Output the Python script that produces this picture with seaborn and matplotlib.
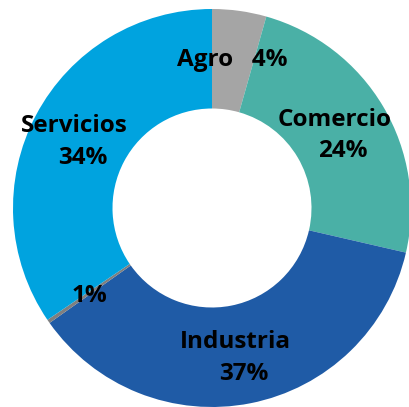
import numpy as np
import matplotlib
matplotlib.use("Agg")
import matplotlib.pyplot as plt
import seaborn as sns

# shares (wedge sizes) and the printed labels
sectores = ["Agro", "Comercio", "Industria", "", "Servicios"]
participacion = [4.4, 24.2, 36.6, 0.3, 34.5]
etiquetas_pct = ["4%", "24%", "37%", "1%", "34%"]
colores = ["#A5A5A5", "#4AB0A6", "#1F5BA6", "#7F7F7F", "#00A3DF"]

sns.set_style("white")
plt.rcParams["font.family"] = ["Open Sans", "DejaVu Sans"]
plt.rcParams["text.color"] = "black"

fig = plt.figure(figsize=(4.10, 4.07), dpi=100)
ax = fig.add_axes([13 / 410, 0 / 407, 398 / 410, 398 / 407])

wedges, _ = ax.pie(participacion, colors=sns.color_palette(colores), startangle=90,
                   counterclock=False, radius=1.0,
                   wedgeprops=dict(width=0.5, linewidth=0))
ax.set_xlim(-1, 1)
ax.set_ylim(-1, 1)
ax.set_aspect("equal")
ax.axis("off")

fs = 17.5
r_lab = 0.75
for w, nombre, pct in zip(wedges, sectores, etiquetas_pct):
    ang = np.deg2rad((w.theta1 + w.theta2) / 2)
    x, y = r_lab * np.cos(ang), r_lab * np.sin(ang)
    if nombre == "Agro":
        ax.annotate(nombre + "   " + pct, (x, y), ha="center", va="center",
                    fontsize=fs, fontweight="bold", color="black")
    elif nombre == "":
        ax.annotate(pct, (x, y), xytext=(0, -2), textcoords="offset points",
                    ha="center", va="center", fontsize=fs, fontweight="bold", color="black")
    else:
        ax.annotate(nombre, (x, y), xytext=(-4, 9), textcoords="offset points",
                    ha="center", va="center", fontsize=fs, fontweight="bold", color="black")
        ax.annotate(pct, (x, y), xytext=(2, -14), textcoords="offset points",
                    ha="center", va="center", fontsize=fs, fontweight="bold", color="black")

fig.savefig("out.png", dpi=100)
